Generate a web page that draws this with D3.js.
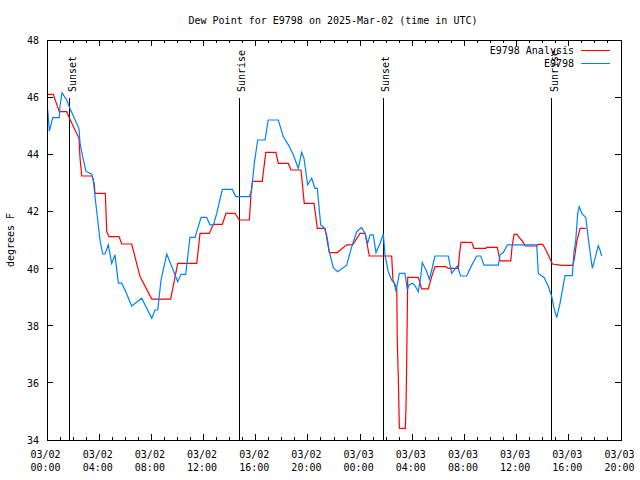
<!DOCTYPE html>
<html><head><meta charset="utf-8">
<script src="https://cdn.jsdelivr.net/npm/d3@7"></script>
<style>
body{margin:0;background:#fff;}
text{font-family:"DejaVu Sans Mono",monospace;font-size:10px;fill:#000;}
</style></head>
<body><svg id="c" width="640" height="480"></svg>
<script>
// hours since 03/02 00:00 UTC, dew point in degrees F
const analysisHours = [0.05,0.48,0.94,1.51,1.76,2.45,2.53,2.66,3.47,3.63,3.68,4.47,4.58,4.75,5.52,5.73,6.49,7.13,8.03,9.48,10.02,11.48,11.73,12.44,12.75,13.44,13.72,14.41,14.74,15.51,15.64,15.75,16.5,16.77,17.55,17.73,18.5,18.7,19.47,19.72,20.47,20.72,21.31,21.64,22.25,22.97,23.43,23.99,24.38,24.71,26.42,26.52,26.81,26.85,26.93,27.01,27.47,27.52,27.57,27.65,28.46,28.72,29.23,29.49,29.74,30.56,30.76,31.53,31.61,31.74,32.56,32.73,33.65,33.71,34.52,34.73,35.55,35.65,35.8,36.01,36.51,36.64,37.54,37.66,38.0,38.31,38.74,39.46,40.3,40.42,40.61,40.86,41.3];
const analysisValues = [46.1,46.1,45.49,45.49,45.23,44.56,43.88,43.24,43.24,42.93,42.63,42.63,41.29,41.12,41.12,40.86,40.86,39.72,38.93,38.93,40.18,40.18,41.23,41.23,41.55,41.55,41.93,41.93,41.7,41.7,42.63,43.05,43.05,44.07,44.07,43.68,43.68,43.45,43.45,42.28,42.28,41.41,41.41,40.56,40.56,40.83,40.83,41.23,41.23,40.44,40.44,39.6,39.3,37.5,36.2,34.41,34.41,35.2,36.6,39.69,39.69,39.29,39.29,39.72,40.07,40.07,40.01,40.01,40.48,40.92,40.92,40.71,40.71,40.74,40.74,40.27,40.27,40.77,41.2,41.2,40.92,40.79,40.79,40.85,40.85,40.59,40.16,40.11,40.11,40.34,40.94,41.41,41.41];
const stationHours = [0.05,0.18,0.44,0.94,1.0,1.15,1.51,1.76,2.45,2.53,2.74,2.99,3.43,3.55,3.68,3.89,4.06,4.27,4.45,4.7,4.96,5.21,5.47,5.73,6.11,6.49,7.26,8.03,8.28,8.49,8.74,9.18,9.56,10.02,10.27,10.63,10.96,11.35,11.81,12.23,12.5,12.76,13.01,13.44,14.2,14.47,15.51,15.69,15.89,16.15,16.71,16.96,17.73,18.11,18.5,18.88,19.26,19.52,19.7,19.98,20.29,20.54,20.72,20.98,21.23,21.44,21.64,21.95,22.28,22.97,23.36,23.74,24.12,24.38,24.58,24.76,25.01,25.22,25.53,25.78,25.91,26.16,26.42,26.62,26.75,27.01,27.44,27.62,27.75,28.0,28.21,28.46,28.65,28.77,29.11,29.31,29.49,29.74,30.76,31.02,31.45,31.71,32.17,32.56,32.94,33.25,33.5,34.6,34.73,34.98,35.29,37.54,37.66,38.1,38.43,38.69,38.87,39.07,39.33,39.71,40.27,40.4,40.53,40.68,40.8,40.99,41.3,41.5,41.8,42.01,42.26,42.39,42.52];
const stationValues = [45.58,44.81,45.28,45.28,45.7,46.15,45.9,45.6,44.9,44.4,43.9,43.4,43.3,43.1,42.52,41.7,41.0,40.51,40.51,40.83,40.18,40.48,39.49,39.49,39.11,38.69,38.96,38.26,38.55,38.55,39.6,40.51,40.07,39.54,39.8,39.8,41.09,41.09,41.79,41.79,41.53,41.53,41.93,42.77,42.77,42.52,42.52,42.77,43.68,44.5,44.5,45.2,45.2,44.62,44.33,43.98,43.51,44.07,43.86,42.93,43.16,42.81,42.81,41.53,41.44,41.18,40.59,40.03,39.89,40.12,40.77,41.29,41.44,41.23,40.88,41.18,41.18,40.56,40.88,41.21,40.48,39.89,39.6,39.49,39.19,39.83,39.83,39.25,39.43,39.49,39.4,39.19,39.72,40.21,39.89,39.62,39.95,40.44,40.44,39.83,40.09,39.74,39.74,40.12,40.44,40.44,40.12,40.12,40.48,40.56,40.83,40.83,39.83,39.69,39.37,39.02,38.61,38.28,38.79,39.75,39.75,40.61,40.97,41.93,42.17,41.93,41.79,41.02,40.01,40.36,40.8,40.65,40.44];
const eventNames = ["Sunset","Sunrise","Sunset","Sunrise"];
const eventHours = [1.76,14.72,25.76,38.71];
const yTicks = [34,36,38,40,42,44,46,48];
const xMajorHours = [0,4,8,12,16,20,24,28,32,36,40,44];
const xDateLabels = ["03/02","03/02","03/02","03/02","03/02","03/02","03/03","03/03","03/03","03/03","03/03","03/03"];
const xTimeLabels = ["00:00","04:00","08:00","12:00","16:00","20:00","00:00","04:00","08:00","12:00","16:00","20:00"];
const seriesNames = ["E9798 Analysis","E9798"];
const seriesColors = ["#ff0000","#0080ff"];
const titleText = "Dew Point for E9798 on 2025-Mar-02 (time in UTC)";
const yLabel = "degrees F";

const svg = d3.select("#c");
const L=47,R=621,T=40,B=440;
const x = d3.scaleLinear().domain([0,44]).range([L,R]);
const y = d3.scaleLinear().domain([34,48]).range([B,T]);

svg.append("text").attr("x",333).attr("y",24).attr("text-anchor","middle").text(titleText);

// minor x ticks (hourly)
const minor = d3.range(0,45);
const tg = svg.append("g").attr("stroke","#000").attr("shape-rendering","crispEdges");
minor.forEach(h=>{
  const len = xMajorHours.includes(h)?6:3;
  tg.append("line").attr("x1",x(h)).attr("x2",x(h)).attr("y1",B).attr("y2",B-len);
  tg.append("line").attr("x1",x(h)).attr("x2",x(h)).attr("y1",T).attr("y2",T+len);
});
yTicks.forEach(v=>{
  tg.append("line").attr("x1",L).attr("x2",L+6).attr("y1",y(v)).attr("y2",y(v));
  tg.append("line").attr("x1",R).attr("x2",R-6).attr("y1",y(v)).attr("y2",y(v));
});

// y axis labels via d3 axis
const ya = svg.append("g").attr("transform",`translate(${L},0)`)
  .call(d3.axisLeft(y).tickValues(yTicks).tickSize(0).tickPadding(8).tickFormat(d3.format("d")));
ya.select(".domain").remove();
ya.selectAll("text").attr("font-family","DejaVu Sans Mono").attr("font-size",10).attr("dy","0.35em");

// x axis labels
const xa = svg.append("g").attr("transform",`translate(0,${B})`)
  .call(d3.axisBottom(x).tickValues(xMajorHours).tickSize(0).tickFormat(""));
xa.select(".domain").remove();
xa.selectAll(".tick").each(function(d,i){
  const t = d3.select(this).append("text").attr("text-anchor","middle").attr("font-family","DejaVu Sans Mono").attr("font-size",10);
  t.append("tspan").attr("x",-2).attr("y",18).text(xDateLabels[i]);
  t.append("tspan").attr("x",-2).attr("y",31).text(xTimeLabels[i]);
});

svg.append("text").attr("transform","translate(14,240) rotate(-90)").attr("text-anchor","middle").text(yLabel);

// event lines
eventHours.forEach((h,i)=>{
  svg.append("line").attr("x1",x(h)).attr("x2",x(h)).attr("y1",98).attr("y2",B)
    .attr("stroke","#000").attr("shape-rendering","crispEdges");
  svg.append("text").attr("transform",`translate(${x(h)+6},92) rotate(-90)`).text(eventNames[i]);
});

// series
const line = d3.line().x(d=>x(d[0])).y(d=>y(d[1]));
const an = analysisHours.map((h,i)=>[h,analysisValues[i]]);
const st = stationHours.map((h,i)=>[h,stationValues[i]]);
svg.append("path").datum(an).attr("d",line).attr("fill","none").attr("stroke",seriesColors[0]).attr("stroke-width",1.2);
svg.append("path").datum(st).attr("d",line).attr("fill","none").attr("stroke",seriesColors[1]).attr("stroke-width",1.2);

// border
svg.append("rect").attr("x",L).attr("y",T).attr("width",R-L).attr("height",B-T)
  .attr("fill","none").attr("stroke","#000").attr("shape-rendering","crispEdges");

// legend
seriesNames.forEach((n,i)=>{
  const yy = 50 + i*13;
  svg.append("text").attr("x",574).attr("y",yy+3.5).attr("text-anchor","end").text(n);
  svg.append("line").attr("x1",581).attr("x2",610).attr("y1",yy).attr("y2",yy)
    .attr("stroke",seriesColors[i]).attr("shape-rendering","crispEdges");
});
</script></body></html>
